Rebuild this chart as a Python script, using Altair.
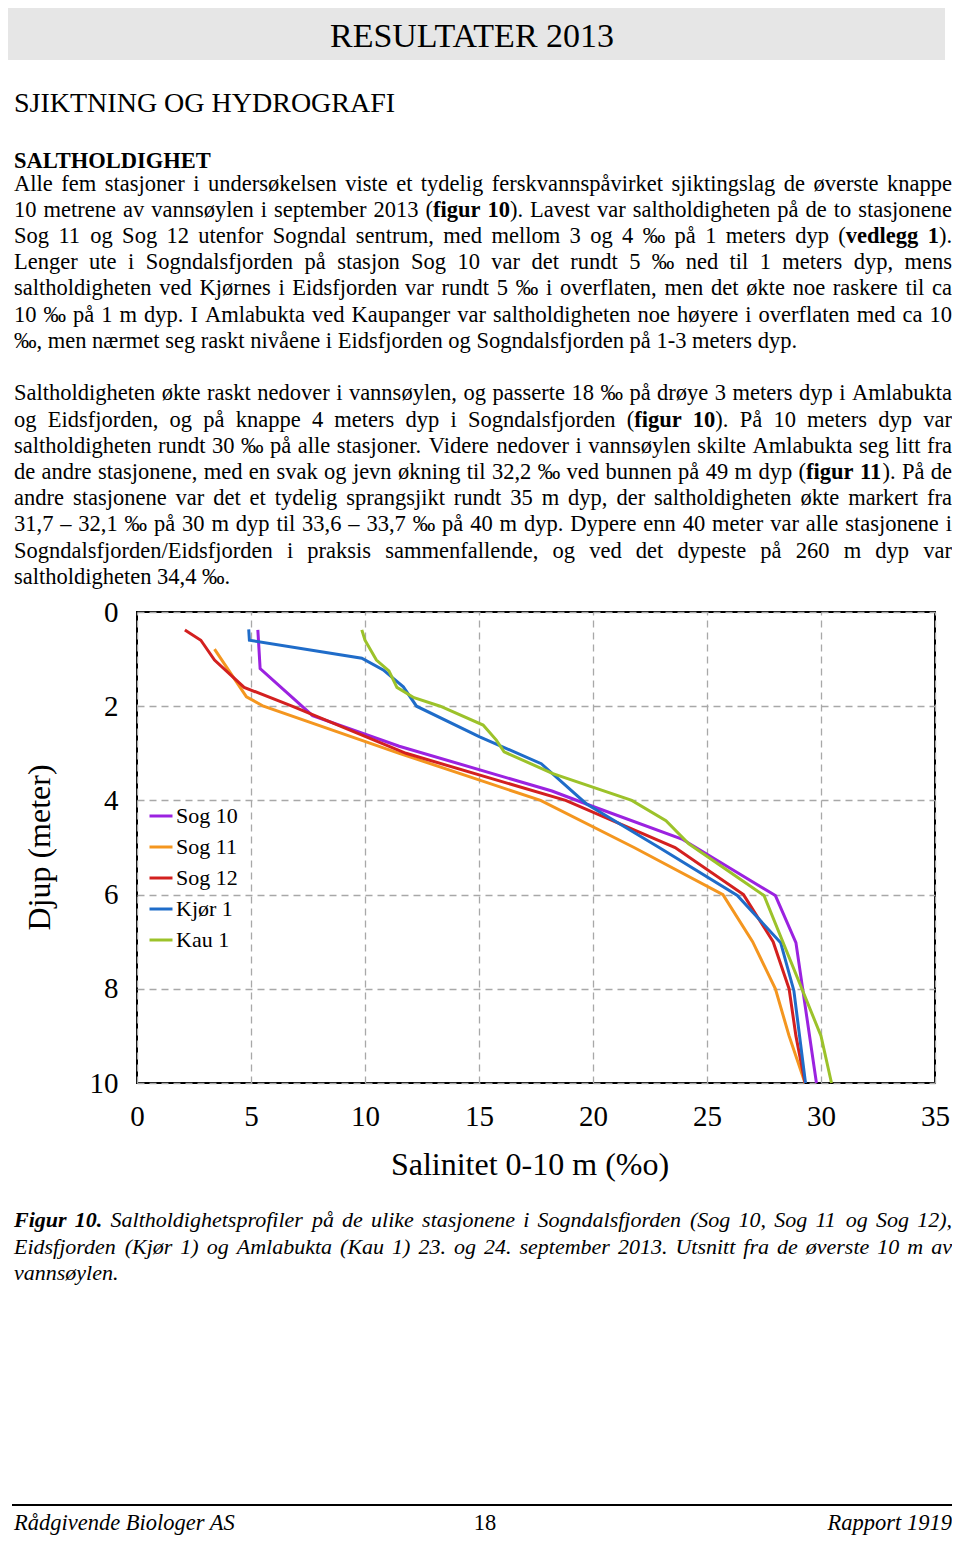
import altair as alt
import pandas as pd

# ---------------- data ----------------
stations = ["Sog 10", "Sog 11", "Sog 12", "Kjør 1", "Kau 1"]
colors = ["#9b22e0", "#f4961f", "#d3201f", "#1f6cc9", "#9cc22a"]

sog10_sal = [5.3, 5.4, 7.7, 11.5, 18.2, 20.0, 23.9, 28.0, 28.9, 29.8]
sog10_dep = [0.38, 1.2, 2.2, 2.85, 3.8, 4.13, 4.82, 6.02, 7.02, 10.0]

sog11_sal = [3.4, 4.8, 5.55, 11.5, 17.7, 21.8, 25.7, 27.0, 28.0, 28.6, 29.3]
sog11_dep = [0.79, 1.8, 2.0, 3.0, 4.0, 5.0, 6.0, 7.0, 8.0, 9.0, 10.0]

sog12_sal = [2.1, 2.8, 3.4, 4.7, 6.8, 11.8, 18.8, 23.6, 26.6, 27.9, 28.6, 28.9, 29.3]
sog12_dep = [0.38, 0.6, 1.02, 1.6, 2.0, 3.0, 4.0, 5.0, 6.0, 7.0, 8.0, 9.0, 10.0]

kjor1_sal = [4.9, 4.93, 9.86, 10.8, 11.68, 12.26, 15.03, 17.73, 19.7, 22.9, 26.33, 28.23, 28.81, 29.32]
kjor1_dep = [0.37, 0.6, 0.98, 1.23, 1.59, 2.0, 2.65, 3.22, 4.07, 5.0, 6.02, 7.02, 8.04, 10.0]

kau1_sal = [9.86, 10.0, 10.5, 11.05, 11.4, 12.15, 13.3, 15.18, 15.76, 16.1, 18.24, 21.7, 23.2,
            24.2, 27.5, 30.0, 30.46]
kau1_dep = [0.38, 0.6, 1.02, 1.25, 1.6, 1.82, 2.0, 2.4, 2.72, 2.97, 3.43, 4.0, 4.43,
            4.92, 6.02, 9.0, 10.0]

x_ticks = [0, 5, 10, 15, 20, 25, 30, 35]
y_ticks = [0, 2, 4, 6, 8, 10]
x_title = "Salinitet 0-10 m (%o)"
y_title = "Djup (meter)"

banner_title = "RESULTATER 2013"
section_title = "SJIKTNING OG HYDROGRAFI"
sub_title = "SALTHOLDIGHET"

para1 = [
    "Alle fem stasjoner i undersøkelsen viste et tydelig ferskvannspåvirket sjiktingslag de øverste knappe",
    "10 metrene av vannsøylen i september 2013 (*figur 10*). Lavest var saltholdigheten på de to stasjonene",
    "Sog 11 og Sog 12 utenfor Sogndal sentrum, med mellom 3 og 4 ‰ på 1 meters dyp (*vedlegg 1*).",
    "Lenger ute i Sogndalsfjorden på stasjon Sog 10 var det rundt 5 ‰ ned til 1 meters dyp, mens",
    "saltholdigheten ved Kjørnes i Eidsfjorden var rundt 5 ‰ i overflaten, men det økte noe raskere til ca",
    "10 ‰ på 1 m dyp. I Amlabukta ved Kaupanger var saltholdigheten noe høyere i overflaten med ca 10",
    "‰, men nærmet seg raskt nivåene i Eidsfjorden og Sogndalsfjorden på 1-3 meters dyp.",
]
para2 = [
    "Saltholdigheten økte raskt nedover i vannsøylen, og passerte 18 ‰ på drøye 3 meters dyp i Amlabukta",
    "og Eidsfjorden, og på knappe 4 meters dyp i Sogndalsfjorden (*figur 10*). På 10 meters dyp var",
    "saltholdigheten rundt 30 ‰ på alle stasjoner. Videre nedover i vannsøylen skilte Amlabukta seg litt fra",
    "de andre stasjonene, med en svak og jevn økning til 32,2 ‰ ved bunnen på 49 m dyp (*figur 11*). På de",
    "andre stasjonene var det et tydelig sprangsjikt rundt 35 m dyp, der saltholdigheten økte markert fra",
    "31,7 – 32,1 ‰ på 30 m dyp til 33,6 – 33,7 ‰ på 40 m dyp. Dypere enn 40 meter var alle stasjonene i",
    "Sogndalsfjorden/Eidsfjorden i praksis sammenfallende, og ved det dypeste på 260 m dyp var",
    "saltholdigheten 34,4 ‰.",
]
caption = [
    "*Figur 10.* Saltholdighetsprofiler på de ulike stasjonene i Sogndalsfjorden (Sog 10, Sog 11 og Sog 12),",
    "Eidsfjorden (Kjør 1) og Amlabukta (Kau 1) 23. og 24. september 2013. Utsnitt fra de øverste 10 m av",
    "vannsøylen.",
]
footer_left = "Rådgivende Biologer AS"
footer_mid = "18"
footer_right = "Rapport 1919"

# ---------------- layout ----------------
FONT = "Liberation Serif"
X0, Y0 = 137, 612          # page position of the plot area
PW, PH = 798, 471          # plot area size
LEFT, RIGHT = 14, 952      # text column
BODY_FS = 22.5
CAP_FS = 22.0
FOOT_Y = 1530

ROMAN = {' ': 250, '(': 333, ')': 333, ',': 250, '-': 333, '.': 250, '/': 278, ':': 278, '%': 833,
         'A': 722, 'B': 667, 'C': 667, 'D': 722, 'E': 611, 'F': 556, 'G': 722, 'H': 722, 'I': 333,
         'J': 389, 'K': 722, 'L': 611, 'M': 889, 'N': 722, 'O': 722, 'P': 556, 'R': 667, 'S': 556,
         'T': 611, 'U': 722, 'V': 722, 'W': 944, 'Y': 722,
         'a': 444, 'b': 500, 'c': 444, 'd': 500, 'e': 444, 'f': 333, 'g': 500, 'h': 500, 'i': 278,
         'j': 278, 'k': 500, 'l': 278, 'm': 778, 'n': 500, 'o': 500, 'p': 500, 'q': 500, 'r': 333,
         's': 389, 't': 278, 'u': 500, 'v': 500, 'w': 722, 'x': 500, 'y': 500, 'z': 444,
         'æ': 667, 'ø': 500, 'å': 444, 'Ø': 722, 'Å': 722, 'Æ': 889, '‰': 1000, '–': 500}
BOLD = dict(ROMAN, **{'a': 500, 'b': 556, 'd': 556, 'h': 556, 'j': 333, 'k': 556, 'm': 833,
                      'n': 556, 'p': 556, 'r': 444, 't': 333, 'u': 556, 'E': 667, 'F': 611,
                      'G': 778, 'H': 778, 'I': 389, 'L': 667, 'O': 778, 'T': 667})
ITALIC = dict(ROMAN, **{'a': 500, 'f': 278, 'k': 444, 'm': 722, 'r': 389, 'v': 444, 'y': 444,
                        'z': 389, 'å': 500, 'A': 611, 'B': 611, 'F': 611, 'K': 667, 'R': 611,
                        'S': 500})
BOLDITALIC = dict(ITALIC, **{'F': 667, 'u': 556})
METRICS = {"n": ROMAN, "b": BOLD, "i": ITALIC, "bi": BOLDITALIC}


def seg_width(text, style, fs):
    table = METRICS[style]
    return sum(table.get(c, 500) for c in text) * fs / 1000.0


def parse(line):
    words, bold = [], False
    for w in line.split(" "):
        segs = []
        for k, p in enumerate(w.split("*")):
            if k > 0:
                bold = not bold
            if p:
                segs.append((p, bold))
        words.append(segs)
    return words


def layout_line(line, y, fs, italic, justify):
    def sty(b):
        return ("b" if b else "") + ("i" if italic else "") or "n"
    words = parse(line)
    widths = [sum(seg_width(t, sty(b), fs) for t, b in w) for w in words]
    space = 250 * fs / 1000.0
    natural = sum(widths) + space * (len(words) - 1)
    gap = space
    if justify and len(words) > 1:
        gap = space + (RIGHT - LEFT - natural) / (len(words) - 1)
    out, x = [], LEFT
    for w, wd in zip(words, widths):
        xx = x
        for t, b in w:
            out.append(dict(t=t, px=xx - X0, py=y - Y0, fs=fs, style=sty(b), align="left", angle=0))
            xx += seg_width(t, sty(b), fs)
        x += wd + gap
    return out


rows = []
rows.append(dict(t=banner_title, px=472 - X0, py=47 - Y0, fs=34, style="n", align="center", angle=0))
rows.append(dict(t=section_title, px=LEFT - X0, py=112 - Y0, fs=28, style="n", align="left", angle=0))
rows.append(dict(t=sub_title, px=LEFT - X0, py=167.5 - Y0, fs=BODY_FS, style="b", align="left", angle=0))
for k, line in enumerate(para1):
    rows += layout_line(line, 190.5 + 26.2 * k, BODY_FS, False, k < len(para1) - 1)
for k, line in enumerate(para2):
    rows += layout_line(line, 400.3 + 26.2 * k, BODY_FS, False, k < len(para2) - 1)
for k, line in enumerate(caption):
    rows += layout_line(line, 1227 + 26.5 * k, CAP_FS, True, k < len(caption) - 1)
rows.append(dict(t=footer_left, px=LEFT - X0, py=FOOT_Y - Y0, fs=BODY_FS, style="i", align="left", angle=0))
rows.append(dict(t=footer_mid, px=485 - X0, py=FOOT_Y - Y0, fs=BODY_FS, style="n", align="center", angle=0))
rows.append(dict(t=footer_right, px=RIGHT - X0, py=FOOT_Y - Y0, fs=BODY_FS, style="i", align="right", angle=0))
rows.append(dict(t=x_title, px=530 - X0, py=1175 - Y0, fs=32, style="n", align="center", angle=0))
rows.append(dict(t=y_title, px=50 - X0, py=PH / 2, fs=32, style="n", align="center", angle=270))
text_df = pd.DataFrame(rows)

# ---------------- chart ----------------
prof = []
for name, sal, dep in zip(stations,
                          [sog10_sal, sog11_sal, sog12_sal, kjor1_sal, kau1_sal],
                          [sog10_dep, sog11_dep, sog12_dep, kjor1_dep, kau1_dep]):
    for i, (s, d) in enumerate(zip(sal, dep)):
        prof.append(dict(station=name, sal=s, depth=d, i=i))
df = pd.DataFrame(prof)

banner = alt.Chart(pd.DataFrame({"a": [0]})).mark_rect(color="#e6e6e6").encode(
    x=alt.value(2 - X0 - 8), x2=alt.value(945 - X0), y=alt.value(3 - Y0), y2=alt.value(60 - Y0))

footer_rule = alt.Chart(pd.DataFrame({"a": [0]})).mark_rule(color="black", strokeWidth=2).encode(
    x=alt.value(12 - X0), x2=alt.value(960 - X0), y=alt.value(1505 - Y0))

lines = alt.Chart(df).mark_line(strokeWidth=3).encode(
    x=alt.X("sal:Q", scale=alt.Scale(domain=[0, 35], nice=False, zero=False),
            axis=alt.Axis(values=x_ticks, title=None, labelFontSize=29, labelPadding=19,
                          labelFont=FONT, labelColor="black", labelFlush=False)),
    y=alt.Y("depth:Q", scale=alt.Scale(domain=[0, 10], reverse=True, nice=False, zero=False),
            axis=alt.Axis(values=y_ticks, title=None, labelFontSize=29, labelPadding=19,
                          labelFont=FONT, labelColor="black", labelFlush=False)),
    color=alt.Color("station:N", scale=alt.Scale(domain=stations, range=colors),
                    legend=alt.Legend(title=None, orient="none", legendX=11, legendY=191,
                                      symbolType="stroke", symbolSize=529, symbolStrokeWidth=3,
                                      labelFont=FONT, labelFontSize=22, labelColor="black",
                                      rowPadding=7, labelOffset=2, padding=0)),
    order=alt.Order("i:Q"),
)

layers = [banner, footer_rule, lines]
for (style, align, angle), g in text_df.groupby(["style", "align", "angle"]):
    layers.append(
        alt.Chart(g).mark_text(
            align=align, baseline="alphabetic", font=FONT, color="black", angle=int(angle),
            fontWeight="bold" if "b" in style else "normal",
            fontStyle="italic" if "i" in style else "normal",
        ).encode(
            x=alt.X("px:Q", scale=None, axis=None),
            y=alt.Y("py:Q", scale=None, axis=None),
            size=alt.Size("fs:Q", scale=None, legend=None),
            text="t:N",
        )
    )

chart = alt.layer(*layers).properties(
    width=PW, height=PH,
    padding={"left": X0 - 8, "top": Y0 - 8, "right": 944 - (X0 - 8) - PW, "bottom": 1528 - (Y0 - 8) - PH},
    autosize=alt.AutoSizeParams(type="none"),
    background="white",
).configure_view(stroke="black", strokeWidth=2).configure_axis(
    grid=True, gridColor="#a8a8a8", gridDash=[7, 5], gridWidth=1.3,
    domain=False, ticks=False, tickSize=0,
)

chart.save("out.html", embed_options={"renderer": "svg", "actions": False})
